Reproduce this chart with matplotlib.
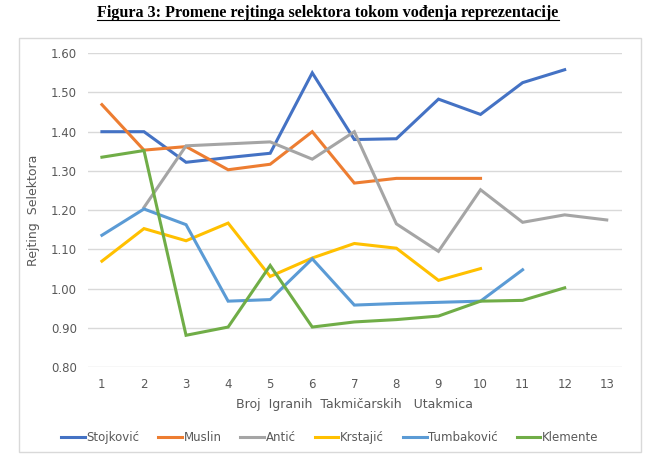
import numpy as np
import matplotlib.pyplot as plt
from matplotlib.patches import Rectangle
from matplotlib.lines import Line2D

nan = np.nan
matches = list(range(1, 14))
stojkovic = [1.40, 1.40, 1.322, 1.334, 1.345, 1.55, 1.38, 1.382, 1.483, 1.444, 1.525, 1.558, nan]
muslin = [1.469, 1.353, 1.362, 1.303, 1.317, 1.40, 1.269, 1.281, 1.281, 1.281, nan, nan, nan]
antic = [nan, 1.207, 1.364, 1.369, 1.374, 1.33, 1.40, 1.165, 1.095, 1.252, 1.169, 1.188, 1.175]
krstajic = [1.07, 1.153, 1.122, 1.167, 1.031, 1.078, 1.115, 1.103, 1.021, 1.051, nan, nan, nan]
tumbakovic = [1.136, 1.203, 1.163, 0.968, 0.972, 1.076, 0.958, 0.962, 0.965, 0.968, 1.048, nan, nan]
klemente = [1.335, 1.352, 0.881, 0.902, 1.059, 0.902, 0.915, 0.921, 0.930, 0.968, 0.970, 1.002, nan]

names = ['Stojković', 'Muslin', 'Antić', 'Krstajić', 'Tumbaković', 'Klemente']
series = [stojkovic, muslin, antic, krstajic, tumbakovic, klemente]
colors = ['#4472C4', '#ED7D31', '#A5A5A5', '#FFC000', '#5B9BD5', '#70AD47']

fig = plt.figure(figsize=(6.56, 4.67), dpi=100)
ax = fig.add_axes([0.134, 0.214, 0.814, 0.672])

for name, vals, c in zip(names, series, colors):
    ax.plot(matches, vals, color=c, lw=2.2, label=name, solid_joinstyle='miter')

ax.set_ylim(0.80, 1.60)
ax.set_xlim(0.667, 13.36)
ax.set_yticks(np.arange(0.8, 1.61, 0.1))
ax.set_yticklabels([f'{v:.2f}' for v in np.arange(0.8, 1.61, 0.1)])
ax.set_xticks(matches)
ax.grid(axis='y', color='#D9D9D9', lw=1)
ax.set_axisbelow(True)
for s in ax.spines.values():
    s.set_visible(False)
ax.tick_params(length=0, colors='#595959', labelsize=8.5, pad=8)
ax.set_xlabel('Broj  Igranih  Takmičarskih   Utakmica', color='#595959', fontsize=9, labelpad=5)
ax.set_ylabel('Rejting  Selektora', color='#595959', fontsize=9, labelpad=8)

ax.legend(loc='center', bbox_to_anchor=(0.453, -0.225), ncol=6, frameon=False,
          handlelength=2.0, handletextpad=0.15, columnspacing=1.6,
          labelcolor='#595959', fontsize=8.5)

# chart border
fig.add_artist(Rectangle((19 / 656, 1 - 452 / 467), 622 / 656, 414 / 467,
                         transform=fig.transFigure, fill=False, edgecolor='#D9D9D9', lw=1))

title = fig.text(0.5, 1 - 13 / 467, 'Figura 3: Promene rejtinga selektora tokom vođenja reprezentacije',
                 ha='center', va='center', fontsize=11.6, fontweight='bold', family='Liberation Serif')
fig.canvas.draw()
bb = title.get_window_extent().transformed(fig.transFigure.inverted())
fig.add_artist(Line2D([bb.x0, bb.x1], [bb.y0 + 0.002, bb.y0 + 0.002], color='black', lw=0.8,
                      transform=fig.transFigure))

fig.savefig('out.png', dpi=100)
